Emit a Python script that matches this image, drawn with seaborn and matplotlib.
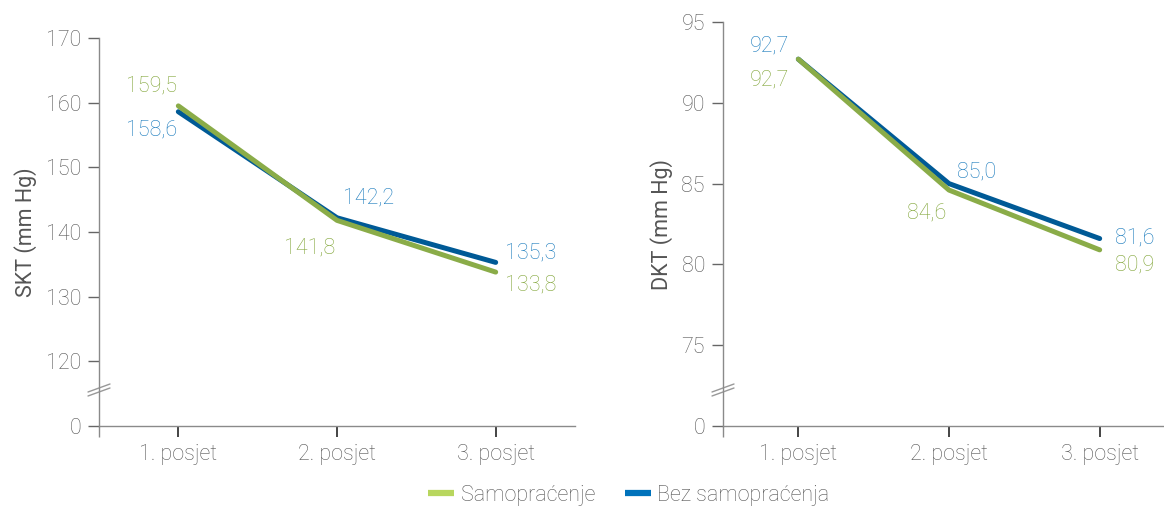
import matplotlib
matplotlib.use("Agg")
import matplotlib.pyplot as plt
from matplotlib.lines import Line2D
import seaborn as sns
import pandas as pd

# --- data ---
visits = ["1. posjet", "2. posjet", "3. posjet"]
series_names = ["Samopraćenje", "Bez samopraćenja"]
skt_self = [159.5, 141.8, 133.8]
skt_noself = [158.6, 142.2, 135.3]
dkt_self = [92.7, 84.6, 80.9]
dkt_noself = [92.7, 85.0, 81.6]

# axis ranges (bottom of each axis is shown as 0 behind a break mark)
skt_ticks = [110, 120, 130, 140, 150, 160, 170]
skt_ticklabels = ["0", "120", "130", "140", "150", "160", "170"]
dkt_ticks = [70, 75, 80, 85, 90, 95]
dkt_ticklabels = ["0", "75", "80", "85", "90", "95"]

# --- styling ---
line_colors = {"Samopraćenje": "#8aac48", "Bez samopraćenja": "#005a96"}
label_colors = {"Samopraćenje": "#82a63a", "Bez samopraćenja": "#1a7bbd"}
legend_colors = {"Samopraćenje": "#b8d65e", "Bez samopraćenja": "#0072bb"}
text_gray = "#555555"
spine_gray = "#8a8a8a"
fs = 15.5

sns.set_theme(style="white")
plt.rcParams["font.family"] = ["Roboto", "DejaVu Sans"]
plt.rcParams["font.weight"] = "light"


def long_frame(self_vals, noself_vals):
    rows = []
    for name, vals in zip(series_names, [self_vals, noself_vals]):
        for i, v in enumerate(vals):
            rows.append({"pos": i, "visit": visits[i], "value": v, "series": name})
    return pd.DataFrame(rows)


fig = plt.figure(figsize=(11.64, 5.07), dpi=100)
ax1 = fig.add_axes([99 / 1164, 81 / 507, 476 / 1164, 388 / 507])
ax2 = fig.add_axes([723 / 1164, 81 / 507, 452 / 1164, 404 / 507])


def draw_panel(ax, self_vals, noself_vals, ticks, ticklabels, ylabel, offsets):
    df = long_frame(self_vals, noself_vals)
    # blue series first so the green one sits on top
    sns.lineplot(data=df, x="pos", y="value", hue="series",
                 hue_order=["Bez samopraćenja", "Samopraćenje"],
                 palette=line_colors, linewidth=3.6, legend=False, ax=ax,
                 solid_capstyle="round", solid_joinstyle="round")
    ax.set_xlim(-0.5, 2.5)
    ax.set_ylim(ticks[0], ticks[-1])
    ax.set_yticks(ticks)
    ax.set_yticklabels(ticklabels)
    ax.set_xticks([0, 1, 2])
    ax.set_xticklabels(visits)
    ax.set_xticks([-0.5], minor=True)
    ax.set_xlabel("")
    ax.set_ylabel(ylabel, fontsize=fs, color=text_gray, labelpad=6)

    for side in ["top", "right"]:
        ax.spines[side].set_visible(False)
    for side in ["left", "bottom"]:
        ax.spines[side].set_color(spine_gray)
        ax.spines[side].set_linewidth(1.0)

    ax.tick_params(axis="y", which="major", direction="out", length=8, width=1,
                   color="#666666", labelsize=fs, labelcolor=text_gray, pad=5,
                   left=True)
    ax.tick_params(axis="x", which="major", direction="out", length=8, width=1.4,
                   color="#444444", labelsize=fs, labelcolor=text_gray, pad=5,
                   bottom=True)
    ax.tick_params(axis="x", which="minor", direction="out", length=8, width=1,
                   color=spine_gray, bottom=True)

    # value labels
    for name, vals in zip(series_names, [self_vals, noself_vals]):
        for i, v in enumerate(vals):
            dx, dy = offsets[name][i]
            ax.annotate(f"{v:.1f}".replace(".", ","), xy=(i, v),
                        xytext=(dx, dy), textcoords="offset pixels",
                        ha="center", va="center", fontsize=fs,
                        color=label_colors[name])

    # axis break mark
    fig.canvas.draw()
    bb = ax.get_window_extent()
    w = 22 / bb.width
    h = 8 / bb.height
    gap = 4 / bb.height
    yb = 36 / bb.height
    for k in (-0.5, 0.5):
        ax.plot([-w / 2, w / 2], [yb + k * gap - h / 2, yb + k * gap + h / 2],
                transform=ax.transAxes, color="#999999", lw=1.0, clip_on=False)


skt_offsets = {
    "Samopraćenje": [(-27, 20), (-27, -28), (35, -13)],
    "Bez samopraćenja": [(-27, -18), (32, 20), (35, 9)],
}
dkt_offsets = {
    "Samopraćenje": [(-29, -21), (-22, -23), (35, -15)],
    "Bez samopraćenja": [(-29, 13), (28, 12), (35, 1)],
}

draw_panel(ax1, skt_self, skt_noself, skt_ticks, skt_ticklabels, "SKT (mm Hg)", skt_offsets)
draw_panel(ax2, dkt_self, dkt_noself, dkt_ticks, dkt_ticklabels, "DKT (mm Hg)", dkt_offsets)

handles = [Line2D([0], [0], color=legend_colors[n], lw=4.5, solid_capstyle="butt")
           for n in series_names]
fig.legend(handles, series_names, loc="center", bbox_to_anchor=(629 / 1164, 1 - 495 / 507),
           ncol=2, frameon=False, fontsize=fs, labelcolor=text_gray,
           handlelength=1.2, handletextpad=0.3, columnspacing=1.4)

fig.savefig("out.png", dpi=100)
